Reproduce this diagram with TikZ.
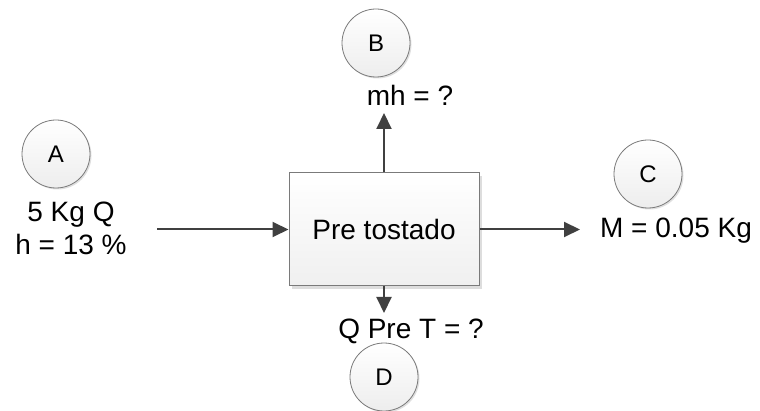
\documentclass[tikz,border=0pt]{standalone}
\usepackage{fontspec}
\setmainfont{Liberation Sans}
\usetikzlibrary{arrows.meta,shadows}
\definecolor{arrowgray}{HTML}{404040}
\definecolor{edgegray}{HTML}{7A7A7A}
\tikzset{
  lbl/.style={font=\fontsize{28}{32}\selectfont, inner sep=0pt, anchor=base},
  circ/.style={circle, draw=edgegray, line width=0.8pt, minimum size=68pt, inner sep=0pt,
    top color=white, bottom color=gray!14,
    drop shadow={shadow xshift=1.5pt, shadow yshift=-1.5pt, fill=gray!50, opacity=0.5},
    font=\fontsize{24}{28}\selectfont},
  procbox/.style={rectangle, draw=edgegray, line width=1pt, minimum width=190pt, minimum height=113pt,
    top color=white, bottom color=gray!12,
    drop shadow={shadow xshift=3pt, shadow yshift=-3pt, fill=gray!45, opacity=0.6},
    font=\fontsize{28}{32}\selectfont},
  flow/.style={draw=arrowgray, line width=2pt, -{Triangle[length=16pt,width=15pt]}}
}
\begin{document}
\begin{tikzpicture}[x=1pt,y=-1pt]
\useasboundingbox (0,0) rectangle (760,411);
\node[procbox] (box) at (384,229.5) {Pre tostado};
\node[circ] (A) at (56,154) {A};
\node[circ] (B) at (376,43) {B};
\node[circ] (C) at (648,174) {C};
\node[circ] (D) at (384,377) {D};
\node[lbl] (tA1) at (71,222) {5 Kg Q};
\node[lbl] (tA2) at (71,255) {h = 13 \%};
\node[lbl] (tB) at (410,106) {mh = ?};
\node[lbl] (tC) at (676,238) {M = 0.05 Kg};
\node[lbl] (tD) at (411,338) {Q Pre T = ?};
\coordinate (sA) at (157,229.5);
\coordinate (eB) at (384,113);
\coordinate (eC) at (580,229.5);
\coordinate (eD) at (384,313);
\draw[flow] (sA) -- (box.west);
\draw[flow] (box.north) -- (eB);
\draw[flow] (box.east) -- (eC);
\draw[flow] (box.south) -- (eD);
\end{tikzpicture}
\end{document}
